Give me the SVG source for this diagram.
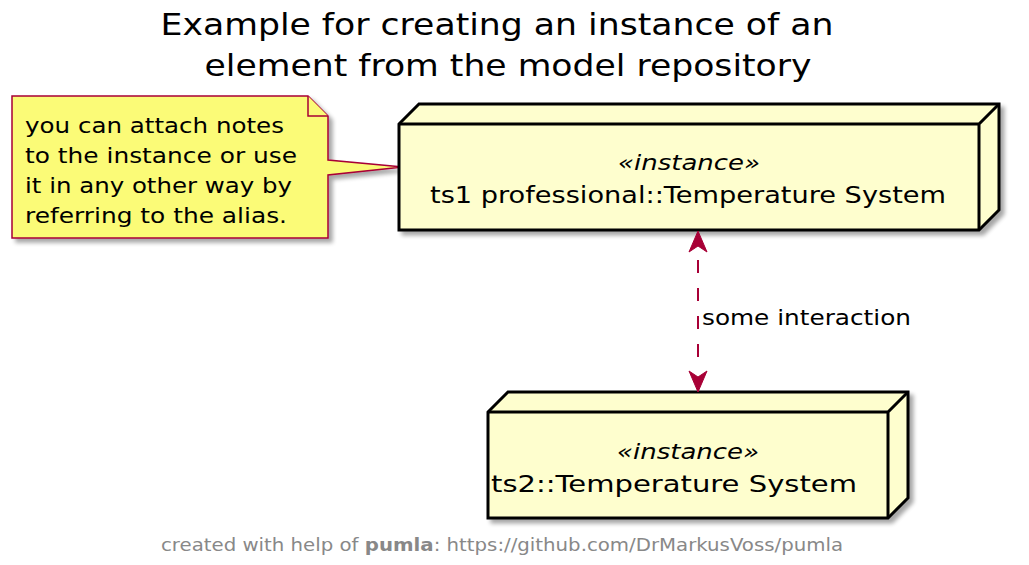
<svg xmlns="http://www.w3.org/2000/svg" width="1029" height="565" viewBox="0 0 1029 565">
<style>
text{font-family:"DejaVu Sans","Noto Sans",sans-serif;fill:#000}
.title{font-size:31px}
.nt{font-size:22px}
.st{font-size:22px;font-style:italic}
.nm{font-size:23px}
.lbl{font-size:21px}
.ft{font-size:18px;fill:#888888}
.node{fill:#FEFECE;stroke:#000;stroke-width:3;stroke-linejoin:miter}
.edge{fill:none;stroke:#000;stroke-width:3}
.note{fill:#FBFB77;stroke:#A80036;stroke-width:1.5}
</style>
<defs>
<filter id="sh" x="-10%" y="-10%" width="130%" height="140%">
<feGaussianBlur in="SourceAlpha" stdDeviation="2"/>
<feOffset dx="4" dy="4" result="b"/>
<feComponentTransfer><feFuncA type="linear" slope="0.35"/></feComponentTransfer>
<feMerge><feMergeNode/><feMergeNode in="SourceGraphic"/></feMerge>
</filter>
</defs>
<rect width="1029" height="565" fill="#ffffff"/>
<g id="title">
<text class="title" x="497" y="35" text-anchor="middle" textLength="673" lengthAdjust="spacingAndGlyphs">Example for creating an instance of an</text>
<text class="title" x="508" y="76" text-anchor="middle" textLength="607" lengthAdjust="spacingAndGlyphs">element from the model repository</text>
</g>
<g id="note">
<path class="note" filter="url(#sh)" d="M12,96 L308,96 L328,116 L328,160 L403,167 L328,175 L328,238 L12,238 Z"/>
<path class="note" fill="none" d="M308,96 L308,116 L328,116"/>
<text class="nt" x="25" y="133" textLength="259" lengthAdjust="spacingAndGlyphs">you can attach notes</text>
<text class="nt" x="25" y="163" textLength="272" lengthAdjust="spacingAndGlyphs">to the instance or use</text>
<text class="nt" x="25" y="193" textLength="267" lengthAdjust="spacingAndGlyphs">it in any other way by</text>
<text class="nt" x="25" y="223" textLength="262" lengthAdjust="spacingAndGlyphs">referring to the alias.</text>
</g>
<g id="ts1">
<path class="node" filter="url(#sh)" d="M399,124 L419,104 L999,104 L999,210 L979,230 L399,230 Z"/>
<path class="edge" d="M399,124 L979,124 L999,104 M979,124 L979,230"/>
<text class="st" x="689" y="170" text-anchor="middle" textLength="142" lengthAdjust="spacingAndGlyphs">«instance»</text>
<text class="nm" x="688" y="203" text-anchor="middle" textLength="516" lengthAdjust="spacingAndGlyphs">ts1 professional::Temperature System</text>
</g>
<g id="ts2">
<path class="node" filter="url(#sh)" d="M488,412 L508,392 L908,392 L908,498 L888,518 L488,518 Z"/>
<path class="edge" d="M488,412 L888,412 L908,392 M888,412 L888,518"/>
<text class="st" x="688" y="459" text-anchor="middle" textLength="142" lengthAdjust="spacingAndGlyphs">«instance»</text>
<text class="nm" x="674" y="492" text-anchor="middle" textLength="366" lengthAdjust="spacingAndGlyphs">ts2::Temperature System</text>
</g>
<g id="connectors">
<line x1="698" y1="260" x2="698" y2="372" stroke="#A80036" stroke-width="2" stroke-dasharray="13,15"/>
<polygon points="698,231 689,252 698,246 707,252" fill="#A80036" stroke="#A80036" stroke-width="1"/>
<polygon points="698,392 689,371 698,377 707,371" fill="#A80036" stroke="#A80036" stroke-width="1"/>
<text class="lbl" x="702" y="325" textLength="209" lengthAdjust="spacingAndGlyphs">some interaction</text>
</g>
<g id="footer">
<text class="ft" x="161" y="551" textLength="682" lengthAdjust="spacingAndGlyphs">created with help of <tspan font-weight="bold">pumla</tspan>: https://github.com/DrMarkusVoss/pumla</text>
</g>
</svg>
